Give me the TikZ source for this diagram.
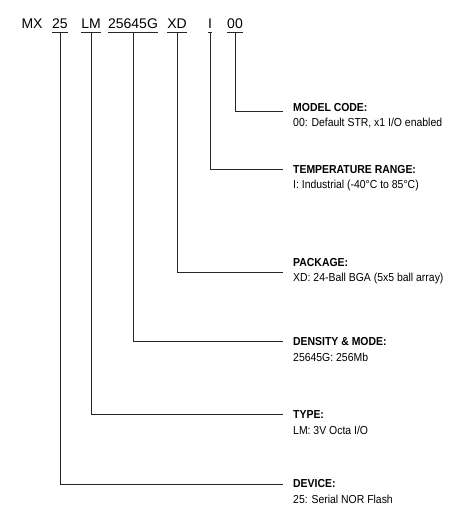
\documentclass[tikz,border=0pt]{standalone}
\usepackage{fontspec}
\setmainfont{Liberation Sans}
\newfontfamily\narrowsans[FakeStretch=0.9]{Liberation Sans}
\usepackage{tikz}
\usetikzlibrary{positioning}

\begin{document}
\begin{tikzpicture}[x=1pt, y=-1pt,
    code/.style={font=\fontsize{14}{16}\selectfont, inner xsep=0pt, inner ysep=3pt,
      text height=10pt, text depth=0pt, anchor=south},
    hdr/.style={font=\narrowsans\fontsize{11.6}{13}\selectfont\bfseries, inner sep=0pt, anchor=west},
    dsc/.style={font=\narrowsans\fontsize{11.6}{13}\selectfont, inner sep=0pt, anchor=west},
    lnk/.style={draw=black!85, line width=0.9pt}]

  \useasboundingbox (0,0) rectangle (462,525);

  % part number fields
  \node[code] (cMX) at (32,32) {MX};
  \foreach \n/\x/\t in {c25/60/25, cLM/91/LM, cDen/133/25645G, cXD/177/XD, cI/210/I, c00/235/00}
    \node[code] (\n) at (\x,32) {\t};
  \foreach \n in {c25, cLM, cDen, cXD, cI, c00}
    \draw[lnk] (\n.south west) -- (\n.south east);

  % field descriptions
  \foreach \c/\ly/\ty/\hd/\ds in {
      c00/111/108/{MODEL CODE:}/{00: Default STR, x1 I/O enabled},
      cI/169/170/{TEMPERATURE RANGE:}/{I: Industrial (-40°C to 85°C)},
      cXD/272/263/{PACKAGE:}/{XD: 24-Ball BGA (5x5 ball array)},
      cDen/341/342/{DENSITY \& MODE:}/{25645G: 256Mb},
      cLM/414/415/{TYPE:}/{LM: 3V Octa I/O},
      c25/484/484/{DEVICE:}/{25: Serial NOR Flash}}
  {
    \coordinate (e\c) at (283,\ly);
    \node[hdr] (t\c) at (293,\ty) {\hd};
    \node[dsc] (d\c) at ([yshift=-15pt]t\c.west) {\ds};
    \draw[lnk] (\c.south) |- (e\c);
  }
\end{tikzpicture}
\end{document}
